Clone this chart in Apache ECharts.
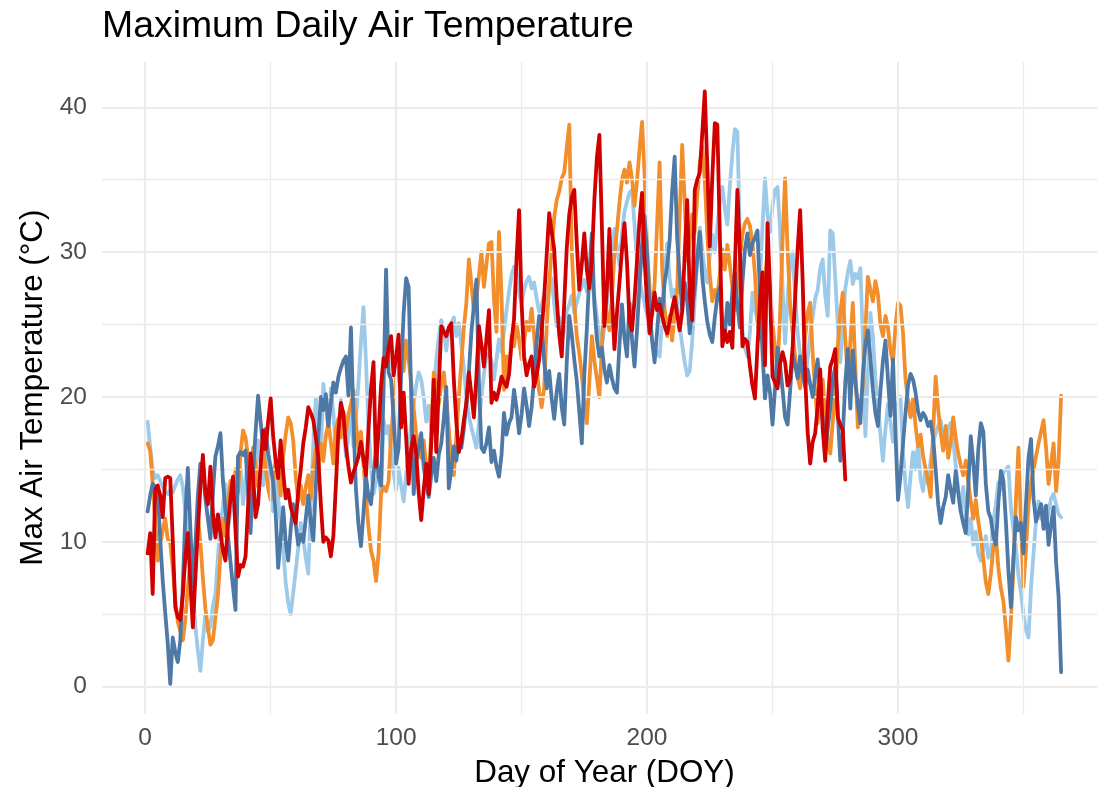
<!DOCTYPE html>
<html>
<head>
<meta charset="utf-8">
<script src="https://cdn.jsdelivr.net/npm/echarts@6/dist/echarts.min.js"></script>
<style>
  html, body { margin: 0; padding: 0; background: #ffffff; }
  #chart { width: 1097px; height: 787px; }
</style>
</head>
<body>
<div id="chart"></div>
<script>
// Axis ticks (major labelled, minor gridlines only)
const xTicks = [0, 100, 200, 300];
const xMinor = [50, 150, 250, 350];
const yTicks = [0, 10, 20, 30, 40];
const yMinor = [5, 15, 25, 35];

// Daily maximum air temperature (°C), one value per day of year starting at DOY 1
const tempLightBlue = [
  18.3,16.5,15.0,14.4,14.6,14.2,13.8,13.5,13.3,13.6,
  13.4,13.9,14.3,14.6,13.8,12.1,10.5,9.6,6.9,4.2,
  2.5,1.1,3.2,5.0,3.8,4.2,5.6,6.4,9.0,11.2,
  12.5,14.0,10.8,12.2,13.5,11.0,13.8,15.1,12.6,14.3,
  15.6,13.0,16.2,14.8,17.0,15.5,13.9,16.8,15.0,13.6,
  12.1,14.5,13.0,11.2,9.5,7.2,5.8,5.0,6.5,8.0,
  9.6,11.3,10.2,8.9,7.8,12.5,16.8,19.9,17.2,15.8,
  20.9,19.5,17.6,20.6,18.9,16.2,17.5,19.8,18.1,15.9,
  17.3,19.2,16.6,18.5,21.0,23.8,26.2,22.4,18.0,15.1,
  13.3,14.2,14.6,13.2,18.4,17.5,18.0,16.2,14.8,13.6,
  15.1,13.9,12.8,14.6,16.3,18.2,19.5,20.8,21.7,21.2,
  20.0,18.3,19.4,17.8,20.3,22.6,24.1,25.3,24.6,23.2,
  24.8,25.0,25.5,24.2,25.1,23.6,22.0,20.0,18.7,17.9,
  17.2,16.5,18.2,20.0,21.6,22.8,23.0,22.5,21.2,22.6,
  24.0,23.1,24.5,26.0,27.3,28.4,29.0,28.6,27.2,26.5,
  27.4,28.0,28.3,27.5,27.9,26.8,25.9,26.3,27.1,26.0,
  27.6,28.2,26.4,24.9,25.5,23.8,24.6,25.9,26.4,27.0,
  25.8,26.5,27.2,27.6,28.1,27.3,28.4,27.8,26.9,25.6,
  24.3,23.5,24.8,26.5,28.7,30.2,31.6,30.4,29.1,31.3,
  32.8,33.5,34.1,34.3,31.9,29.4,28.0,27.2,26.5,25.6,
  24.8,24.0,23.5,23.0,22.8,25.3,28.4,30.6,28.2,26.9,
  27.4,26.5,24.9,23.6,22.4,21.5,21.8,23.9,26.7,29.5,
  31.7,30.2,28.6,27.9,29.8,31.2,30.0,31.8,33.5,34.5,
  33.0,31.9,34.6,36.8,38.5,38.3,31.0,24.6,23.4,22.8,
  24.5,27.2,26.0,25.4,28.1,31.8,35.1,32.6,31.4,33.2,
  34.3,34.5,31.5,27.6,23.7,26.8,29.2,30.0,27.1,24.5,
  22.9,21.6,21.0,22.7,24.3,25.5,26.8,27.4,28.9,29.5,
  27.0,25.6,31.5,31.3,28.2,25.0,22.4,24.8,27.5,28.6,
  29.4,27.8,28.5,28.2,28.9,24.1,17.3,21.6,25.8,24.2,
  21.3,19.6,17.4,15.6,17.8,19.5,18.2,16.9,18.8,19.6,
  20.0,16.1,13.9,12.4,14.6,16.2,15.0,16.8,14.3,13.5,
  15.1,14.0,15.6,16.9,17.5,18.0,18.4,17.2,16.8,17.9,
  18.2,17.0,15.3,13.6,12.1,13.8,11.9,10.5,11.6,9.8,
  10.7,9.2,8.7,9.5,10.4,8.9,9.3,11.4,12.6,14.1,
  13.6,14.8,15.0,15.2,12.3,10.8,9.6,7.7,6.5,5.0,
  3.9,3.4,6.8,9.2,11.5,12.8,11.6,12.4,10.9,12.1,
  13.0,13.3,12.6,11.9,11.7
];

const tempOrange = [
  16.8,16.3,14.0,11.5,8.7,9.8,10.8,11.6,10.2,9.9,
  8.2,6.0,4.5,3.8,3.2,4.6,6.9,8.5,7.2,9.6,
  11.8,10.0,7.5,5.4,4.1,2.9,3.2,4.8,6.3,9.1,
  11.6,10.4,12.8,14.2,13.1,15.0,13.4,16.1,17.7,17.2,
  15.8,14.0,16.5,15.2,13.8,14.9,16.4,15.1,13.7,12.9,
  14.3,15.6,14.8,13.2,15.9,17.4,18.6,18.2,17.0,14.5,
  12.8,13.9,12.6,13.8,14.6,13.0,15.2,16.4,14.9,16.8,
  15.6,17.3,18.2,16.9,15.4,17.8,18.5,17.2,19.0,17.6,
  18.8,19.5,20.5,18.2,16.4,17.6,15.3,13.1,11.0,9.4,
  8.7,7.3,9.2,13.3,13.8,13.5,14.2,17.3,19.6,21.4,
  23.2,22.5,21.8,23.9,22.6,21.0,19.2,17.5,16.2,15.8,
  17.0,15.2,14.0,17.6,21.7,20.9,19.5,20.8,21.7,19.9,
  17.8,15.6,14.6,17.3,20.0,22.4,24.8,26.5,29.5,27.8,
  25.9,26.8,28.4,30.0,27.6,29.2,30.6,30.7,26.8,24.5,
  31.4,27.0,20.5,22.8,21.6,24.2,23.5,25.0,24.0,22.6,
  23.8,25.2,24.6,26.1,24.3,22.0,20.4,19.3,20.6,24.8,
  27.9,30.2,32.4,33.6,34.2,35.1,35.5,37.2,38.8,30.1,
  26.4,24.2,23.0,21.5,19.6,18.2,21.0,24.2,22.5,21.3,
  20.0,23.4,27.1,25.8,24.6,26.9,29.8,31.5,33.4,35.0,
  35.7,34.8,36.2,35.1,33.2,34.9,37.1,39.0,35.4,30.2,
  27.5,25.6,27.8,31.9,36.2,29.0,26.1,24.2,25.6,23.9,
  25.8,27.3,32.6,37.4,33.5,29.4,30.8,32.6,31.4,33.8,
  36.1,37.3,35.0,31.2,28.4,26.6,27.4,26.9,28.5,30.2,
  28.8,30.5,29.1,27.6,26.0,27.8,29.6,31.2,32.0,32.3,
  31.8,30.6,28.5,25.2,24.0,26.8,28.4,29.9,27.5,25.1,
  23.4,21.9,25.6,30.8,35.1,30.2,26.4,24.5,22.8,21.4,
  20.6,22.5,24.1,25.8,26.5,23.0,20.4,18.2,19.8,21.2,
  18.8,17.1,16.1,18.3,20.4,23.5,25.8,27.2,24.0,21.3,
  23.8,26.5,22.0,17.9,19.5,20.8,24.6,28.3,27.4,26.6,
  28.0,27.1,25.0,24.2,25.6,24.8,23.2,22.4,24.9,26.5,
  26.3,24.4,21.2,19.8,18.6,19.9,18.0,16.6,17.4,15.9,
  15.0,14.2,13.1,17.6,21.4,19.2,17.5,16.3,18.0,15.8,
  16.9,18.6,17.2,16.1,15.3,14.6,15.6,14.1,12.8,11.6,
  12.9,11.4,10.3,8.8,7.2,6.4,7.8,9.6,10.4,8.2,
  6.8,5.9,4.0,1.8,4.6,8.3,12.9,16.5,11.2,6.9,
  9.5,12.6,14.1,15.0,15.9,16.8,17.6,18.4,16.5,14.0,
  15.4,16.8,13.5,15.6,20.1
];

const tempSteelBlue = [
  12.1,13.2,14.0,13.8,13.5,10.2,7.3,5.1,3.0,0.2,
  3.4,2.4,1.7,3.2,7.0,11.8,15.1,11.0,6.9,9.8,
  13.2,15.4,15.1,13.0,11.6,10.2,13.4,15.9,16.6,17.5,
  14.2,12.1,10.4,8.6,6.9,5.3,15.9,16.2,16.0,16.3,
  13.5,10.6,14.8,17.6,20.1,18.3,16.5,17.8,16.1,15.2,
  14.1,12.0,8.2,10.3,12.4,10.0,8.7,10.9,12.6,11.2,
  9.8,10.5,10.0,11.6,13.2,11.4,10.1,13.8,17.2,20.0,
  19.1,20.2,18.0,19.6,21.0,20.3,21.4,22.0,22.5,22.8,
  20.1,24.8,18.4,13.6,11.2,9.7,12.0,14.5,13.1,12.6,
  14.6,16.4,14.5,13.9,20.5,28.8,21.7,21.2,18.6,15.4,
  16.5,21.6,25.8,28.2,27.6,20.1,13.3,15.5,16.5,17.5,
  15.2,14.0,13.1,14.6,15.8,14.2,16.0,16.8,18.5,20.7,
  13.7,15.0,16.6,15.6,17.1,16.5,17.8,19.6,21.7,24.5,
  26.3,28.1,21.0,16.5,16.2,16.8,17.9,15.5,16.3,15.2,
  14.5,16.0,18.9,17.4,18.2,18.6,20.5,19.2,17.5,18.8,
  20.6,19.4,18.0,19.3,21.4,23.8,25.6,24.9,22.5,20.6,
  21.8,19.9,18.5,20.4,21.6,19.3,18.1,22.4,25.6,24.3,
  22.6,21.1,19.0,16.8,21.5,24.7,28.5,31.3,26.4,24.0,
  22.8,23.4,21.9,21.0,22.2,21.3,20.6,20.3,23.6,26.4,
  24.1,22.8,26.5,24.0,22.1,24.6,27.8,30.5,32.5,30.0,
  26.3,23.9,22.4,24.5,26.8,25.7,27.9,29.0,30.8,34.2,
  36.6,31.0,28.4,26.0,27.9,26.6,24.4,26.0,27.5,29.6,
  31.4,28.3,26.6,25.2,24.3,23.8,25.5,26.9,27.6,25.0,
  24.3,26.5,25.0,27.3,28.6,26.4,24.8,27.9,30.2,31.3,
  29.8,30.6,31.0,31.5,27.2,23.1,19.9,21.5,20.3,18.1,
  20.6,23.4,22.2,20.5,18.6,18.1,20.4,23.0,22.2,21.3,
  22.8,21.6,20.7,21.9,20.9,20.0,21.4,22.6,20.2,18.5,
  16.1,17.8,19.2,21.2,22.1,18.9,15.6,17.4,21.0,23.3,
  19.2,23.2,21.0,19.5,18.2,21.6,23.6,24.6,22.7,20.5,
  18.9,18.0,20.4,22.5,23.9,21.2,18.7,22.6,17.5,12.9,
  14.6,16.8,18.9,20.8,21.6,21.2,20.3,19.0,18.4,18.9,
  18.6,18.0,18.3,17.2,15.0,12.6,11.3,12.4,13.1,14.6,
  13.6,12.7,14.9,13.4,12.1,11.3,10.6,13.8,17.3,15.5,
  13.2,16.4,18.2,17.6,14.0,12.1,11.6,10.4,9.8,12.7,
  14.9,14.2,11.4,8.0,5.5,8.9,11.7,10.8,11.3,9.2,
  12.6,15.8,17.1,13.0,11.4,12.0,12.6,10.9,12.5,9.8,
  11.2,12.4,8.6,6.2,1.0
];

// This record stops at DOY 279
const tempRed = [
  9.2,10.6,6.4,13.6,13.9,13.2,11.7,14.4,14.5,14.4,
  10.1,5.5,4.8,4.6,6.3,8.9,10.6,7.2,4.1,7.5,
  10.8,13.8,16.0,13.4,12.6,15.2,12.0,10.3,11.9,10.6,
  9.4,8.7,11.2,13.0,14.5,10.8,7.6,8.4,8.3,9.0,
  12.4,16.1,14.6,11.7,12.6,15.2,17.7,16.4,18.3,19.9,
  17.3,15.6,14.4,17.0,14.8,13.0,13.6,12.4,11.8,11.3,
  13.5,15.0,16.8,17.9,19.3,18.9,18.4,17.2,15.8,12.6,
  10.0,10.3,10.1,9.0,10.4,13.9,17.6,19.6,18.8,16.6,
  15.2,14.1,14.8,15.3,15.9,16.9,15.7,14.6,17.8,20.6,
  22.4,15.2,17.6,20.8,22.7,22.1,23.4,24.2,21.5,22.8,
  24.3,17.9,20.3,17.2,14.0,16.4,17.3,16.1,13.4,11.5,
  13.6,15.4,13.3,16.8,21.2,16.2,20.7,24.9,24.5,24.2,
  24.8,25.1,21.2,18.3,16.2,17.0,18.4,19.6,21.7,20.2,
  18.6,21.4,24.9,23.6,22.1,24.0,26.0,19.6,20.3,19.8,
  20.5,21.4,21.0,20.7,21.6,23.8,25.4,29.6,32.9,26.5,
  22.8,21.5,22.3,22.8,20.7,21.5,22.6,24.5,26.9,29.8,
  32.7,31.4,30.2,26.8,24.3,22.8,26.5,30.3,32.6,33.8,
  34.3,30.6,27.4,29.2,31.3,28.8,27.5,29.4,33.6,36.5,
  38.1,31.8,24.9,27.5,31.6,27.0,23.3,25.8,27.9,30.1,
  32.0,29.3,25.2,24.6,26.7,29.4,32.2,34.1,29.5,26.6,
  24.4,25.8,27.2,26.0,26.4,25.6,24.9,24.4,25.2,26.1,
  26.9,25.7,24.6,25.9,29.8,33.6,27.0,25.3,34.3,35.0,
  35.5,38.2,41.1,36.0,30.4,35.2,38.9,38.8,31.2,23.5,
  24.6,23.8,24.5,23.4,28.9,34.3,30.1,23.5,24.0,23.8,
  22.1,20.8,19.9,23.5,26.7,28.6,22.2,32.0,27.4,21.4,
  21.0,20.6,22.3,23.1,22.4,20.8,21.2,23.4,26.8,30.2,
  32.9,28.1,21.4,17.6,15.4,16.9,17.5,19.4,21.9,17.8,
  15.6,19.4,22.1,22.6,23.3,18.6,18.1,17.7,14.3
];

const seriesColors = ['#9ecae9', '#f28e2b', '#4e79a7', '#d00000'];
const seriesNames = ['Light', 'Orange', 'Steel', 'Red'];
const seriesValues = [tempLightBlue, tempOrange, tempSteelBlue, tempRed];

const toPairs = arr => arr.map((v, i) => [i + 1, v]);

const GRID = '#ebebeb';
const gridLines = [].concat(
  xTicks.map(v => ({ xAxis: v, lineStyle: { color: GRID, width: 2.2, type: 'solid' } })),
  xMinor.map(v => ({ xAxis: v, lineStyle: { color: GRID, width: 1.3, type: 'solid' } })),
  yTicks.map(v => ({ yAxis: v, lineStyle: { color: GRID, width: 2.2, type: 'solid' } })),
  yMinor.map(v => ({ yAxis: v, lineStyle: { color: GRID, width: 1.3, type: 'solid' } }))
);

const FONT = '"Liberation Sans", Arial, Helvetica, sans-serif';

const chart = echarts.init(document.getElementById('chart'), null, { renderer: 'canvas' });

const lineSeries = seriesValues.map((vals, k) => ({
  name: seriesNames[k],
  type: 'line',
  data: toPairs(vals),
  showSymbol: false,
  symbol: 'none',
  silent: true,
  z: 3 + k,
  lineStyle: { color: seriesColors[k], width: 3.8, join: 'round', cap: 'round' },
  itemStyle: { color: seriesColors[k] }
}));

chart.setOption({
  animation: false,
  backgroundColor: '#ffffff',
  title: {
    text: 'Maximum Daily Air Temperature',
    left: 102,
    top: 8,
    padding: 0,
    textStyle: { fontFamily: FONT, fontSize: 37.4, fontWeight: 'normal', color: '#000000' }
  },
  // plot panel runs to the right edge of the canvas; fixed pixel box
  grid: { left: 102, right: 0, top: 61.7, bottom: 73.5, outerBoundsMode: 'none' },
  xAxis: {
    type: 'value',
    min: -17.2,
    max: 379.3,
    name: 'Day of Year (DOY)',
    nameLocation: 'middle',
    nameGap: 44,
    nameTextStyle: { fontFamily: FONT, fontSize: 31.4, color: '#000000', padding: [0, 0, 0, 10] },
    axisLine: { show: false },
    axisTick: { show: false },
    splitLine: { show: false },
    axisLabel: { customValues: xTicks, margin: 12, fontFamily: FONT, fontSize: 24.5, color: '#4d4d4d' }
  },
  yAxis: {
    type: 'value',
    min: -1.85,
    max: 43.15,
    name: 'Max Air Temperature (°C)',
    nameLocation: 'middle',
    nameGap: 48,
    nameTextStyle: { fontFamily: FONT, fontSize: 31.4, color: '#000000' },
    axisLine: { show: false },
    axisTick: { show: false },
    splitLine: { show: false },
    axisLabel: { customValues: yTicks, margin: 15, fontFamily: FONT, fontSize: 24.5, color: '#4d4d4d' }
  },
  series: [{
    type: 'line',
    data: [],
    silent: true,
    z: 1,
    markLine: {
      silent: true,
      symbol: ['none', 'none'],
      label: { show: false },
      animation: false,
      lineStyle: { color: GRID, type: 'solid' },
      emphasis: { disabled: true },
      data: gridLines
    }
  }].concat(lineSeries)
});
</script>
</body>
</html>
